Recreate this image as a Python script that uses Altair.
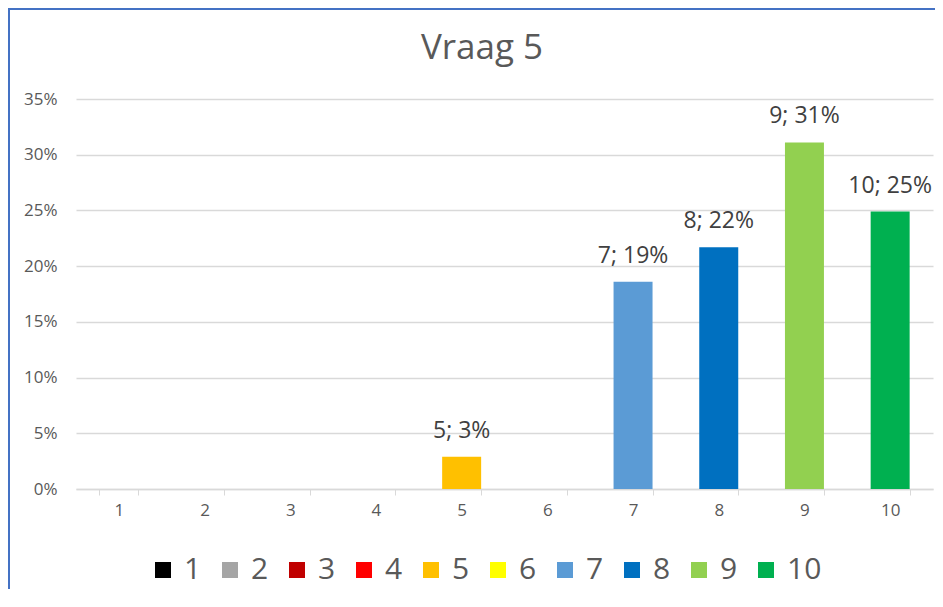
import altair as alt
import pandas as pd

categories = ["1", "2", "3", "4", "5", "6", "7", "8", "9", "10"]
values = [0.0, 0.0, 0.0, 0.0, 0.029, 0.0, 0.186, 0.217, 0.311, 0.249]
colors = ["#000000", "#a5a5a5", "#c00000", "#ff0000", "#ffc000",
          "#ffff00", "#5b9bd5", "#0070c0", "#92d050", "#00b050"]
y_ticks = [0, 0.05, 0.10, 0.15, 0.20, 0.25, 0.30, 0.35]
title_text = "Vraag 5"

df = pd.DataFrame({"cat": categories, "value": values})

FONT = "Open Sans"

x_enc = alt.X(
    "cat:N",
    sort=categories,
    scale=alt.Scale(paddingInner=0.545, paddingOuter=0.2725),
    axis=alt.Axis(
        title=None,
        labelAngle=0,
        labelFont=FONT,
        labelFontSize=17,
        labelColor="#595959",
        labelPadding=7,
        tickBand="extent",
        tickSize=6,
        tickColor="#d9d9d9",
        domainColor="#d9d9d9",
        domainWidth=1.5,
        grid=False,
    ),
)

y_enc = alt.Y(
    "value:Q",
    scale=alt.Scale(domain=[0, 0.35], nice=False),
    axis=alt.Axis(
        title=None,
        values=y_ticks,
        format=".0%",
        labelFont=FONT,
        labelFontSize=17,
        labelColor="#595959",
        labelPadding=19,
        ticks=False,
        domain=False,
        grid=True,
        gridColor="#d9d9d9",
        gridWidth=1.5,
    ),
)

color_enc = alt.Color(
    "cat:N",
    sort=categories,
    scale=alt.Scale(domain=categories, range=colors),
    legend=alt.Legend(
        title=None,
        orient="none",
        direction="horizontal",
        legendX=72,
        legendY=456,
        symbolType="square",
        symbolSize=256,
        symbolStrokeWidth=0,
        symbolOpacity=1,
        labelFont=FONT,
        labelFontSize=30,
        labelColor="#595959",
        labelOffset=6,
        columnPadding=13,
        padding=0,
    ),
)

bars = alt.Chart(df).mark_bar().encode(x=x_enc, y=y_enc, color=color_enc)

labels = (
    alt.Chart(df)
    .transform_filter("datum.value > 0")
    .transform_calculate(label="datum.cat + '; ' + format(datum.value, '.0%')")
    .mark_text(font=FONT, fontSize=23, color="#404040", baseline="alphabetic", dy=-19)
    .encode(x=alt.X("cat:N", sort=categories), y="value:Q", text="label:N")
)

title = alt.Chart(pd.DataFrame({"t": [title_text]})).mark_text(
    font=FONT, fontSize=35, color="#595959", baseline="alphabetic", align="center", clip=False
).encode(text="t:N", x=alt.value(406), y=alt.value(-40))

border = alt.Chart(pd.DataFrame({"k": [0]})).mark_rect(
    fill=None, stroke="#4472c4", strokeWidth=4, clip=False
).encode(
    x=alt.value(-68),
    y=alt.value(-91),
    x2=alt.value(1000),
    y2=alt.value(700),
)

chart = (
    alt.layer(bars, labels, title, border)
    .properties(
        width=857,
        height=390,
        padding={"left": 68, "top": 91, "right": 2, "bottom": 100},
        autosize=alt.AutoSizeParams(type="none"),
    )
    .configure_view(stroke=None)
)

chart.save("out.html", embed_options={"renderer": "svg", "actions": False})
